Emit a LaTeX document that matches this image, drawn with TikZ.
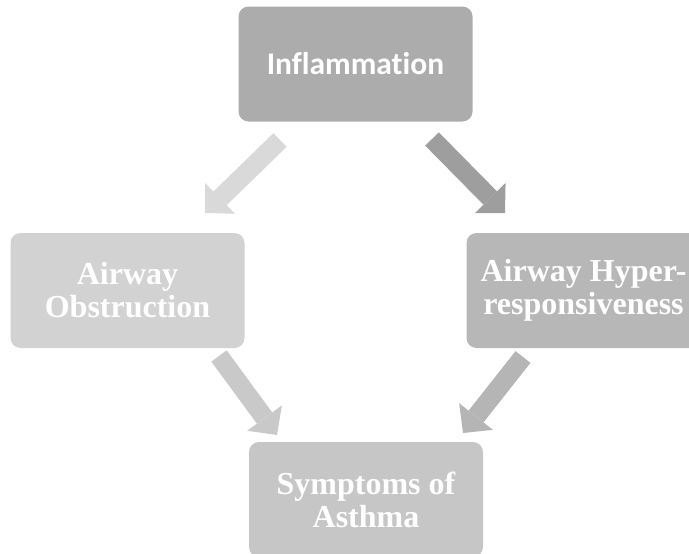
\documentclass[tikz,border=0pt]{standalone}
\usepackage{fontspec}
\usetikzlibrary{arrows.meta, positioning}
\newfontfamily\calfont{Carlito}[Ligatures=NoCommon]
\newfontfamily\timesfont{Liberation Serif}
\definecolor{inflgray}{HTML}{ACACAC}
\definecolor{obstgray}{HTML}{D2D2D2}
\definecolor{hypgray}{HTML}{B7B7B7}
\definecolor{sympgray}{HTML}{C6C6C6}
\definecolor{arrowtl}{HTML}{D9D9D9}
\definecolor{arrowtr}{HTML}{9E9E9E}
\definecolor{arrowbl}{HTML}{C9C9C9}
\definecolor{arrowbr}{HTML}{B5B5B5}

\begin{document}
\begin{tikzpicture}[x=1pt, y=-1pt,
    box/.style={rounded corners=10pt, minimum width=234pt, minimum height=115pt,
      inner sep=0pt, align=center, text=white,
      font=\timesfont\bfseries\fontsize{32}{33}\selectfont},
    flow/.style={line width=19pt,
      -{Triangle[width=43pt, length=21pt, line width=0pt]}}]
			\useasboundingbox (0,0) rectangle (689,554);

			% Draw the boxes
			\node[box, fill=inflgray, font=\calfont\bfseries\fontsize{31.5}{33}\selectfont]
			(infl) at (355.5,64) {Inflammation};
			\node[box, fill=obstgray] (obst) at (127.5,290.5) {Airway\\Obstruction};
			\node[box, fill=hypgray] (hyp) at (583.5,290.5) {Airway Hyper-\\responsiveness};
			\node[box, fill=sympgray] (symp) at (366,499.5) {Symptoms of\\Asthma};

			% Ends of the block arrows
			\coordinate (tlTail) at (280,140);
			\coordinate (tlTip) at (205,213);
			\coordinate (trTail) at (432,139);
			\coordinate (trTip) at (505,213);
			\coordinate (blTail) at (219,356);
			\coordinate (blTip) at (277,435);
			\coordinate (brTail) at (523,357);
			\coordinate (brTip) at (463,433);

			% Draw the block arrows
			\draw[flow, arrowtl] (tlTail) -- (tlTip);
			\draw[flow, arrowtr] (trTail) -- (trTip);
			\draw[flow, arrowbl] (blTail) -- (blTip);
			\draw[flow, arrowbr] (brTail) -- (brTip);

		\end{tikzpicture}
\end{document}
